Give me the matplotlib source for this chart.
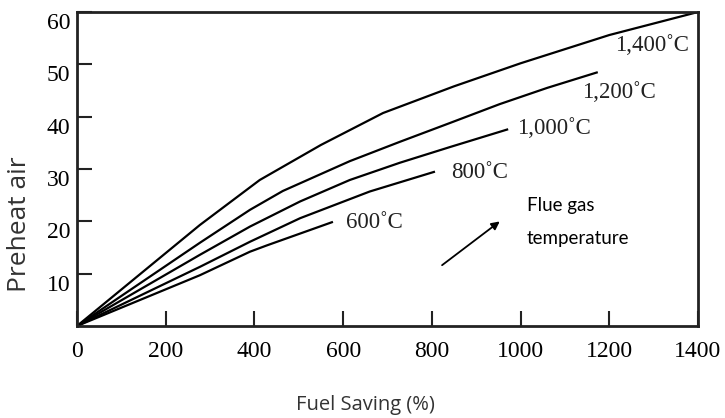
import matplotlib
matplotlib.use("Agg")
import matplotlib.pyplot as plt
from matplotlib.transforms import ScaledTranslation

# Data
x_1400 = [0, 277, 412, 550, 690, 850, 1000, 1200, 1400]
y_1400 = [0, 19.3, 27.9, 34.6, 40.7, 45.8, 50.2, 55.6, 60]
x_1200 = [0, 277, 390, 464, 615, 728, 841, 953, 1060, 1174]
y_1200 = [0, 15.9, 22.2, 25.8, 31.5, 35.2, 38.8, 42.4, 45.5, 48.5]
x_1000 = [0, 277, 390, 503, 615, 728, 841, 972]
y_1000 = [0, 13.6, 19.0, 23.8, 27.9, 31.2, 34.2, 37.6]
x_800 = [0, 277, 390, 503, 660, 807]
y_800 = [0, 11.3, 16.1, 20.6, 25.7, 29.5]
x_600 = [0, 277, 390, 428, 577]
y_600 = [0, 9.7, 14.2, 15.4, 19.9]

curve_labels = ["1,400˚C", "1,200˚C", "1,000˚C", "800˚C", "600˚C"]
label_pos = [(1214, 53.6), (1138, 44.7), (992, 37.8), (843, 29.4), (606, 19.7)]

x_ticks = [0, 200, 400, 600, 800, 1000, 1200, 1400]
y_ticks = [10, 20, 30, 40, 50, 60]

fig = plt.figure(figsize=(7.25, 4.18), dpi=100)
ax = fig.add_axes([0.1062, 0.2201, 0.8566, 0.7512])

serif = ["Liberation Serif", "DejaVu Serif"]

series = [(x_1400, y_1400), (x_1200, y_1200), (x_1000, y_1000),
          (x_800, y_800), (x_600, y_600)]
for (xs, ys) in series:
    ax.plot(xs, ys, color="black", lw=1.6, solid_capstyle="butt")

for lab, (lx, ly) in zip(curve_labels, label_pos):
    ax.text(lx, ly, lab, family=serif, fontsize=16.5, color="#222222",
            ha="left", va="center")

ax.annotate("", xy=(958, 20.3), xytext=(818, 11.3),
            arrowprops=dict(arrowstyle="-|>", color="black", lw=1.3,
                            mutation_scale=12))
ax.text(1014, 23.1, "Flue gas", family=["Lato", "DejaVu Sans"], fontsize=13.5,
        ha="left", va="center")
ax.text(1014, 16.8, "temperature", family=["Lato", "DejaVu Sans"], fontsize=13.5,
        ha="left", va="center")

ax.set_xlim(0, 1400)
ax.set_ylim(0, 60)
ax.set_xticks(x_ticks)
ax.set_xticklabels([str(v) for v in x_ticks], family=serif, fontsize=17)
ax.set_yticks(y_ticks)
ax.set_yticklabels([str(v) for v in y_ticks], family=serif, fontsize=17)
ax.tick_params(axis="both", direction="in", length=11, width=1.5, color="#222222")
ax.tick_params(axis="x", pad=11)
ax.tick_params(axis="y", pad=5)
for lbl in ax.get_yticklabels():
    lbl.set_transform(lbl.get_transform() + ScaledTranslation(0, -0.09, fig.dpi_scale_trans))

for s in ax.spines.values():
    s.set_linewidth(2.0)
    s.set_color("#222222")

fig.text(20 / 725, 1 - 224 / 418, "Preheat air", rotation=90, ha="center", va="center",
         family=["Open Sans", "DejaVu Sans"], fontsize=19, color="#333333")
fig.text(365 / 725, 1 - 405 / 418, "Fuel Saving (%)", ha="center", va="center",
         family=["Open Sans", "DejaVu Sans"], fontsize=14.5, color="#333333")

fig.savefig("out.png", dpi=100)
